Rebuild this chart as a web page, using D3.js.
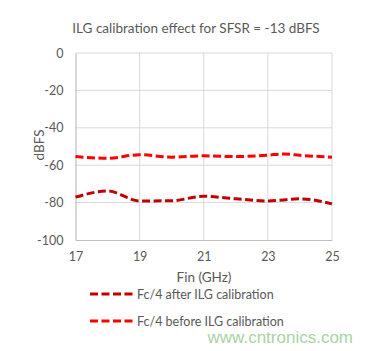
<!DOCTYPE html>
<html>
<head>
<meta charset="utf-8">
<script src="https://cdn.jsdelivr.net/npm/d3@7"></script>
<style>
  body { margin: 0; background: #fff; }
  svg text { font-family: Lato, "Open Sans", sans-serif; }
</style>
</head>
<body>
<div id="chart"></div>
<script>
const FREQ = [17, 18, 19, 20, 21, 22, 23, 24, 25];
const AFTER = [-77.1, -73.8, -79.1, -79, -76.6, -78, -79.1, -78, -80.7];
const BEFORE_FREQ = [17, 18, 19, 20, 21, 22, 23, 23.5, 24, 25];
const BEFORE = [-55.4, -56.3, -54.4, -55.7, -55, -55.4, -54.6, -54, -54.7, -55.7];
const X_TICKS = [17, 19, 21, 23, 25];
const Y_TICKS = [0, -20, -40, -60, -80, -100];
const SERIES = [
  { name: 'Fc/4 after ILG calibration', x: FREQ, y: AFTER, color: '#c00000' },
  { name: 'Fc/4 before ILG calibration', x: BEFORE_FREQ, y: BEFORE, color: '#ff0000' }
];

const W = 373, H = 351;
const M = { t: 53, r: 41, b: 111, l: 75.5 };
const svg = d3.select('#chart').append('svg')
  .attr('width', W).attr('height', H)
  .style('display', 'block');

const x = d3.scaleLinear().domain([17, 25]).range([M.l, W - M.r]);
const y = d3.scaleLinear().domain([-100, 0]).range([H - M.b, M.t]);

// gridlines
svg.append('g')
  .selectAll('line.h')
  .data(Y_TICKS.filter(d => d !== -100))
  .enter().append('line')
  .attr('x1', x(17)).attr('x2', x(25))
  .attr('y1', d => y(d)).attr('y2', d => y(d))
  .attr('stroke', '#d9d9d9').attr('stroke-width', 1);
svg.append('g')
  .selectAll('line.v')
  .data(X_TICKS.filter(d => d !== 17))
  .enter().append('line')
  .attr('x1', d => x(d)).attr('x2', d => x(d))
  .attr('y1', y(0)).attr('y2', y(-100))
  .attr('stroke', '#d9d9d9').attr('stroke-width', 1);

// axes (plain hyphen minus, as in the original)
const xAxis = svg.append('g')
  .attr('transform', `translate(0,${y(-100)})`)
  .call(d3.axisBottom(x).tickValues(X_TICKS).tickSize(0).tickPadding(12).tickFormat(d => String(d)));
const yAxis = svg.append('g')
  .attr('transform', `translate(${x(17)},0)`)
  .call(d3.axisLeft(y).tickValues(Y_TICKS).tickSize(0).tickPadding(12).tickFormat(d => String(d)));
[xAxis, yAxis].forEach(g => {
  g.select('.domain').attr('stroke', '#bfbfbf').attr('stroke-width', 1.2);
  g.selectAll('text').attr('fill', '#595959').style('font-size', '12.5px')
    .style('font-family', 'Lato, sans-serif');
});

// lines
const line = d3.line().x(d => x(d[0])).y(d => y(d[1])).curve(d3.curveMonotoneX);
SERIES.forEach(s => {
  svg.append('path')
    .datum(d3.zip(s.x, s.y))
    .attr('fill', 'none')
    .attr('stroke', s.color)
    .attr('stroke-width', 3)
    .attr('stroke-dasharray', '8 3.5')
    .attr('d', line);
});

// title
svg.append('text')
  .attr('x', 196).attr('y', 33)
  .attr('text-anchor', 'middle')
  .attr('fill', '#595959')
  .style('font-size', '13.5px')
  .text('ILG calibration effect for SFSR = -13 dBFS');

// axis titles
svg.append('text')
  .attr('transform', `translate(44,145) rotate(-90)`)
  .attr('text-anchor', 'middle')
  .attr('fill', '#595959')
  .style('font-size', '13.5px')
  .text('dBFS');
svg.append('text')
  .attr('x', 204).attr('y', 282)
  .attr('text-anchor', 'middle')
  .attr('fill', '#595959')
  .style('font-size', '13.5px')
  .text('Fin (GHz)');

// legend
const leg = svg.append('g');
SERIES.forEach((s, i) => {
  const ly = 294 + i * 27;
  leg.append('line')
    .attr('x1', 90).attr('x2', 135)
    .attr('y1', ly).attr('y2', ly)
    .attr('stroke', s.color).attr('stroke-width', 3)
    .attr('stroke-dasharray', '8 3.5');
  leg.append('text')
    .attr('x', 137).attr('y', ly + 4.5)
    .attr('fill', '#595959')
    .style('font-size', '12.5px')
    .text(s.name);
});

// watermark
svg.append('text')
  .attr('x', 353).attr('y', 343)
  .attr('text-anchor', 'end')
  .attr('fill', '#a9d3a3')
  .style('font-family', '"Liberation Sans", Arial, sans-serif')
  .style('font-size', '17px')
  .text('www.cntronics.com');
</script>
</body>
</html>
